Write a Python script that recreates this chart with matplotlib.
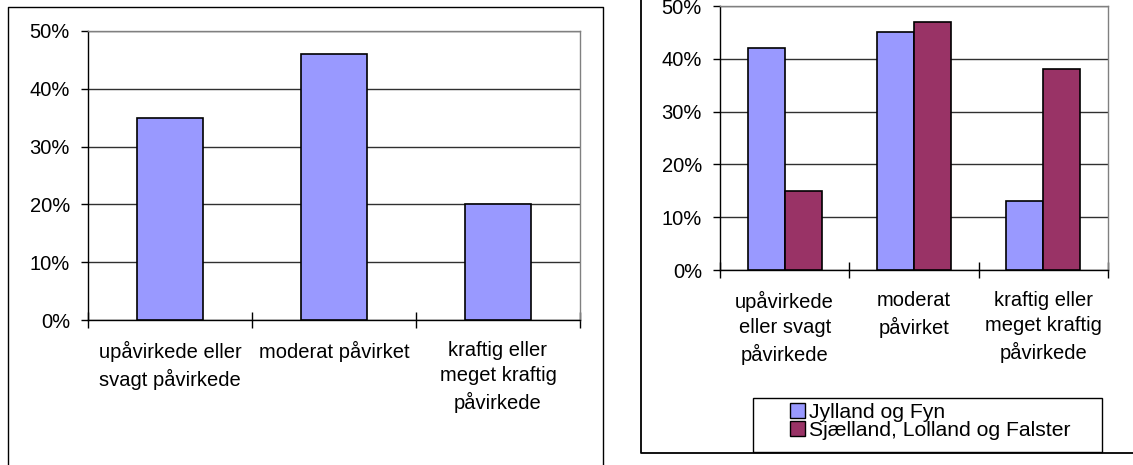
import matplotlib
matplotlib.use("Agg")
import matplotlib.pyplot as plt
from matplotlib.lines import Line2D
from matplotlib.patches import Rectangle, Patch
import numpy as np

plt.rcParams['font.family'] = ['Liberation Sans', 'DejaVu Sans']

# Data
total_labels = ["upåvirkede eller\nsvagt påvirkede", "moderat påvirket",
                "kraftig eller\nmeget kraftig\npåvirkede"]
total_values = [35, 46, 20]

region_labels = ["upåvirkede\neller svagt\npåvirkede", "moderat\npåvirket",
                 "kraftig eller\nmeget kraftig\npåvirkede"]
series_names = ["Jylland og Fyn", "Sjælland, Lolland og Falster"]
jylland_fyn = [42, 45, 13]
sjaelland_lf = [15, 47, 38]
yticks = [0, 10, 20, 30, 40, 50]

BLUE = "#9999FF"
PLUM = "#993366"
FS = 14.5
W, H = 1133, 465

fig = plt.figure(figsize=(W / 100, H / 100), dpi=100)


def fx(px):
    return px / W


def fy(py):
    return 1 - py / H


def style_axes(ax, labels):
    n = len(labels)
    ax.set_xlim(0, n)
    ax.set_ylim(0, 50)
    ax.set_yticks(yticks)
    ax.set_yticklabels([f"{v}%" for v in yticks])
    ax.yaxis.grid(True, color="#303030", linewidth=1.0, zorder=0)
    ax.set_axisbelow(True)
    ax.set_xticks(np.arange(n + 1))
    ax.set_xticklabels([])
    ax.set_xticks(np.arange(n) + 0.5, minor=True)
    ax.set_xticklabels(labels, minor=True, fontsize=FS, linespacing=1.42)
    ax.tick_params(axis="x", which="major", direction="inout", length=12,
                   width=1.0, color="black")
    ax.tick_params(axis="x", which="minor", length=0, pad=15)
    ax.tick_params(axis="y", direction="out", length=5, width=1.0,
                   labelsize=FS, pad=8)
    for s in ("left", "bottom"):
        ax.spines[s].set_color("black")
        ax.spines[s].set_linewidth(1.0)
    for s in ("top", "right"):
        ax.spines[s].set_color("#808080")
        ax.spines[s].set_linewidth(1.0)


# Left chart: all of Denmark
ax1 = fig.add_axes([fx(88), fy(320), fx(580) - fx(88), fy(31) - fy(320)])
x1 = np.arange(len(total_values)) + 0.5
ax1.bar(x1, total_values, width=0.4, color=BLUE, edgecolor="black",
        linewidth=1.2, zorder=3)
style_axes(ax1, total_labels)

# Right chart: by region
ax2 = fig.add_axes([fx(720), fy(270), fx(1108) - fx(720), fy(6) - fy(270)])
x2 = np.arange(len(jylland_fyn)) + 0.5
bw = 1 / 3.5
ax2.bar(x2 - bw / 2, jylland_fyn, width=bw, color=BLUE, edgecolor="black",
        linewidth=1.2, zorder=3)
ax2.bar(x2 + bw / 2, sjaelland_lf, width=bw, color=PLUM, edgecolor="black",
        linewidth=1.2, zorder=3)
style_axes(ax2, region_labels)

# Chart frames
fig.add_artist(Line2D([fx(8), fx(8), fx(603), fx(603)],
                      [0, fy(7), fy(7), 0], color="black", linewidth=1.0))
fig.add_artist(Line2D([fx(641), fx(641), 1.0],
                      [1.0, fy(453), fy(453)], color="black", linewidth=1.3))

# Legend
fig.add_artist(Rectangle((fx(753), fy(452)), fx(1102) - fx(753),
                         fy(398) - fy(452), fill=False, edgecolor="black",
                         linewidth=1.0))
handles = [Patch(facecolor=BLUE, edgecolor="black", linewidth=1.0),
           Patch(facecolor=PLUM, edgecolor="black", linewidth=1.0)]
fig.legend(handles, series_names, loc="upper left",
           bbox_to_anchor=(fx(790), fy(403)), frameon=False, fontsize=15.2,
           handlelength=0.72, handleheight=0.72, handletextpad=0.2,
           labelspacing=-0.05, borderpad=0.0, borderaxespad=0.0)

fig.savefig("out.png", dpi=100, facecolor="white")
